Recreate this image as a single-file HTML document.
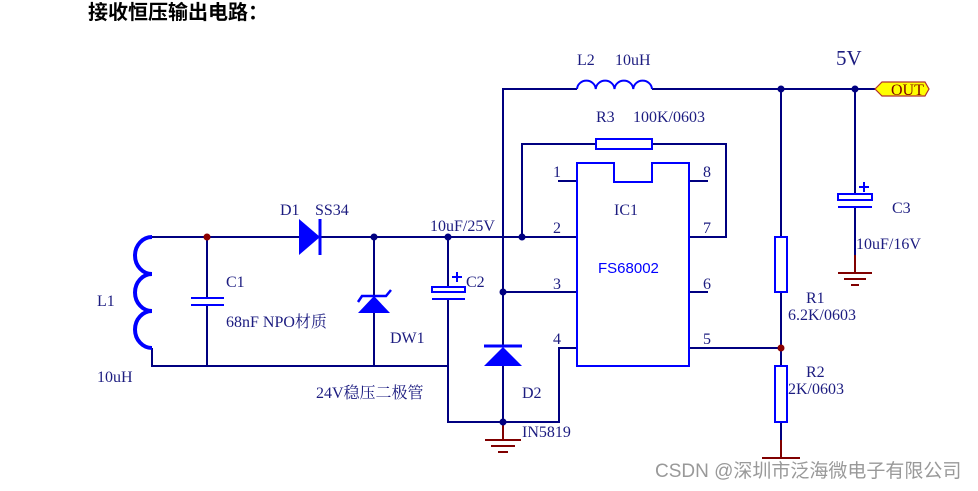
<!DOCTYPE html>
<html><head><meta charset="utf-8"><style>
html,body{margin:0;padding:0;background:#fff;}
svg{display:block;}
.t{font-family:"Liberation Serif","Noto Serif CJK SC",serif;font-size:16px;fill:#1c1c80;}
</style></head><body>
<svg width="978" height="491" viewBox="0 0 978 491" xmlns="http://www.w3.org/2000/svg">
<text x="88" y="19" style="font-family:'Liberation Sans','Noto Sans CJK SC',sans-serif;font-size:20px;font-weight:bold" fill="#000">接收恒压输出电路：</text>
<g fill="none" stroke="#000080" stroke-width="2">
<polyline points="152,237 299,237"/>
<polyline points="320,237 577,237"/>
<polyline points="152,348 152,366 448,366"/>
<line x1="207" y1="237" x2="207" y2="298"/>
<line x1="207" y1="305" x2="207" y2="366"/>
<line x1="374" y1="237" x2="374" y2="296"/>
<line x1="374" y1="313" x2="374" y2="366"/>
<line x1="448" y1="237" x2="448" y2="287"/>
<polyline points="448,298 448,422 559,422 559,348 577,348"/>
<polyline points="503,346 503,89 577,89"/>
<line x1="503" y1="366" x2="503" y2="422"/>
<polyline points="652,89 875,89"/>
<polyline points="522,237 522,144 596,144"/>
<polyline points="652,144 726,144 726,237 689,237"/>
<line x1="503" y1="292" x2="577" y2="292"/>
<line x1="558" y1="181" x2="577" y2="181"/>
<line x1="689" y1="181" x2="708" y2="181"/>
<line x1="689" y1="292" x2="708" y2="292"/>
<line x1="689" y1="348" x2="781" y2="348"/>
<line x1="781" y1="89" x2="781" y2="237"/>
<line x1="781" y1="292" x2="781" y2="366"/>
<line x1="781" y1="422" x2="781" y2="440"/>
<line x1="855" y1="89" x2="855" y2="194"/>
<line x1="855" y1="207" x2="855" y2="255"/>
</g>
<g fill="none" stroke="#0000ff" stroke-width="2">
<path d="M152,237 a17,18.5 0 1 0 0,37 a17,18.5 0 1 0 0,37 a17,18.5 0 1 0 0,37" stroke-width="4"/>
<line x1="191" y1="298" x2="224" y2="298"/><line x1="191" y1="305" x2="224" y2="305"/>
<line x1="320" y1="219" x2="320" y2="255" stroke-width="3"/>
<polyline points="358,302 362,296 386,296 391,290" stroke-width="2.5"/>
<rect x="432" y="287" width="33" height="5"/>
<line x1="432" y1="299" x2="465" y2="299"/>
<line x1="457" y1="272" x2="457" y2="282"/><line x1="452" y1="277" x2="462" y2="277"/>
<line x1="484" y1="346" x2="522" y2="346" stroke-width="3"/>
<path d="M577,163 H614 V182 H652 V163 H689 V366 H577 Z"/>
<rect x="596" y="139" width="56" height="10"/>
<path d="M577,89 a9.4,9 0 0 1 18.75,0 a9.4,9 0 0 1 18.75,0 a9.4,9 0 0 1 18.75,0 a9.4,9 0 0 1 18.75,0"/>
<rect x="775" y="237" width="12" height="55"/>
<rect x="775" y="366" width="12" height="56"/>
<rect x="838" y="194" width="34" height="6"/>
<line x1="838" y1="207" x2="872" y2="207"/>
<line x1="864" y1="182" x2="864" y2="192"/><line x1="859" y1="187" x2="869" y2="187"/>
</g>
<g fill="#0000ff">
<polygon points="299,219 299,255 320,237"/>
<polygon points="374,296 358,313 390,313"/>
<polygon points="503,347 484,366 522,366"/>
</g>
<g stroke="#800000" stroke-width="2">
<line x1="503" y1="422" x2="503" y2="440"/>
<line x1="485" y1="440" x2="521" y2="440"/><line x1="491" y1="446" x2="515" y2="446"/><line x1="498" y1="452" x2="508" y2="452"/>
<line x1="855" y1="255" x2="855" y2="273"/>
<line x1="838" y1="273" x2="872" y2="273"/><line x1="844" y1="279" x2="866" y2="279"/><line x1="851" y1="285" x2="859" y2="285"/>
<line x1="781" y1="440" x2="781" y2="458"/>
<line x1="762" y1="458" x2="800" y2="458"/>
</g>
<g fill="#000080">
<circle cx="374" cy="237" r="3.5"/><circle cx="448" cy="237" r="3.5"/><circle cx="522" cy="237" r="3.5"/>
<circle cx="503" cy="292" r="3.5"/><circle cx="503" cy="422" r="3.5"/>
<circle cx="781" cy="89" r="3.5"/><circle cx="855" cy="89" r="3.5"/>
</g>
<g fill="#8b0000"><circle cx="207" cy="237" r="3.5"/><circle cx="781" cy="348" r="3.5"/></g>
<polygon points="875,89 882,82 925,82 929,89 925,96 882,96" fill="#ffff00" stroke="#b03030" stroke-width="1.2"/>
<text x="891" y="95" style="font-family:'Liberation Serif',serif;font-size:16px" fill="#800000">OUT</text>
<g class="t">
<text x="97" y="306">L1</text><text x="97" y="382">10uH</text>
<text x="226" y="287">C1</text><text x="226" y="327">68nF NPO材质</text>
<text x="280" y="215">D1</text><text x="315" y="215">SS34</text>
<text x="390" y="343">DW1</text><text x="316" y="398">24V稳压二极管</text>
<text x="430" y="231">10uF/25V</text><text x="466" y="287">C2</text>
<text x="522" y="398">D2</text><text x="522" y="437">IN5819</text>
<text x="577" y="65">L2</text><text x="615" y="65">10uH</text>
<text x="596" y="122">R3</text><text x="633" y="122">100K/0603</text>
<text x="614" y="215">IC1</text>
<text x="553" y="177">1</text><text x="553" y="233">2</text><text x="553" y="289">3</text><text x="553" y="344">4</text>
<text x="703" y="177">8</text><text x="703" y="233">7</text><text x="703" y="289">6</text><text x="703" y="344">5</text>
<text x="806" y="303">R1</text><text x="788" y="320">6.2K/0603</text>
<text x="806" y="377">R2</text><text x="788" y="394">2K/0603</text>
<text x="892" y="213">C3</text><text x="856" y="249">10uF/16V</text>
<text x="836" y="65" style="font-size:21px">5V</text>
</g>
<text x="598" y="273" style="font-family:'Liberation Sans',sans-serif;font-size:15px" fill="#0000ff">FS68002</text>
<text x="655" y="477" style="font-family:'Liberation Sans','Noto Sans CJK SC',sans-serif;font-size:19px" fill="#999">CSDN @深圳市泛海微电子有限公司</text>
</svg>
</body></html>
